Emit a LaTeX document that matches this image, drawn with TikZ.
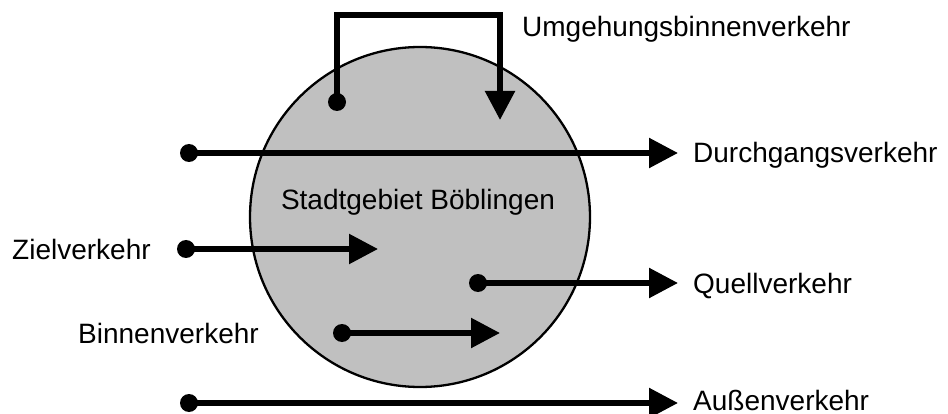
\documentclass[tikz,border=0pt]{standalone}
\usepackage{fontspec}
\setmainfont{Liberation Sans}
\usetikzlibrary{arrows.meta}
\definecolor{cityfill}{HTML}{C0C0C0}
\tikzset{
  flow/.style={line width=5.5pt, -{Triangle[length=29pt,width=29pt]}},
  dot/.style={circle, fill=black, inner sep=0pt, minimum size=18pt},
  lbl/.style={anchor=base west, inner sep=0pt, font=\fontsize{28}{33}\selectfont},
  city/.style={circle, draw=black, line width=2.3pt, fill=cityfill, minimum size=340pt, inner sep=0pt}
}
\begin{document}
\begin{tikzpicture}[x=1pt,y=-1pt]
\useasboundingbox (0,0) rectangle (948,414);
% city
\node[city] (city) at (420,217) {};
\node[anchor=base, inner sep=0pt, font=\fontsize{28}{33}\selectfont] (citylbl) at (418,210) {Stadtgebiet Böblingen};
% Umgehungsbinnenverkehr
\node[dot] (du) at (337,102) {};
\coordinate (tu) at (500,120);
\coordinate (topu) at (420,15);
\draw[flow] (du.center) |- (topu) -| (tu);
\node[lbl] (lu) at (522,37) {Umgehungsbinnenverkehr};
% Durchgangsverkehr
\node[dot] (dd) at (189,153) {};
\coordinate (td) at (678,153);
\draw[flow] (dd.center) -- (td);
\node[lbl] (ld) at (693,163) {Durchgangsverkehr};
% Zielverkehr
\node[dot] (dz) at (186,249) {};
\coordinate (tz) at (378,249);
\draw[flow] (dz.center) -- (tz);
\node[lbl] (lz) at (12,259) {Zielverkehr};
% Quellverkehr
\node[dot] (dq) at (478,283) {};
\coordinate (tq) at (678,283);
\draw[flow] (dq.center) -- (tq);
\node[lbl] (lq) at (693,293) {Quellverkehr};
% Binnenverkehr
\node[dot] (db) at (342,333) {};
\coordinate (tb) at (500,333);
\draw[flow] (db.center) -- (tb);
\node[lbl] (lb) at (78,343) {Binnenverkehr};
% Aussenverkehr
\node[dot] (da) at (189,403) {};
\coordinate (ta) at (678,403);
\draw[flow] (da.center) -- (ta);
\node[lbl] (la) at (693,410) {Außenverkehr};
\end{tikzpicture}
\end{document}
